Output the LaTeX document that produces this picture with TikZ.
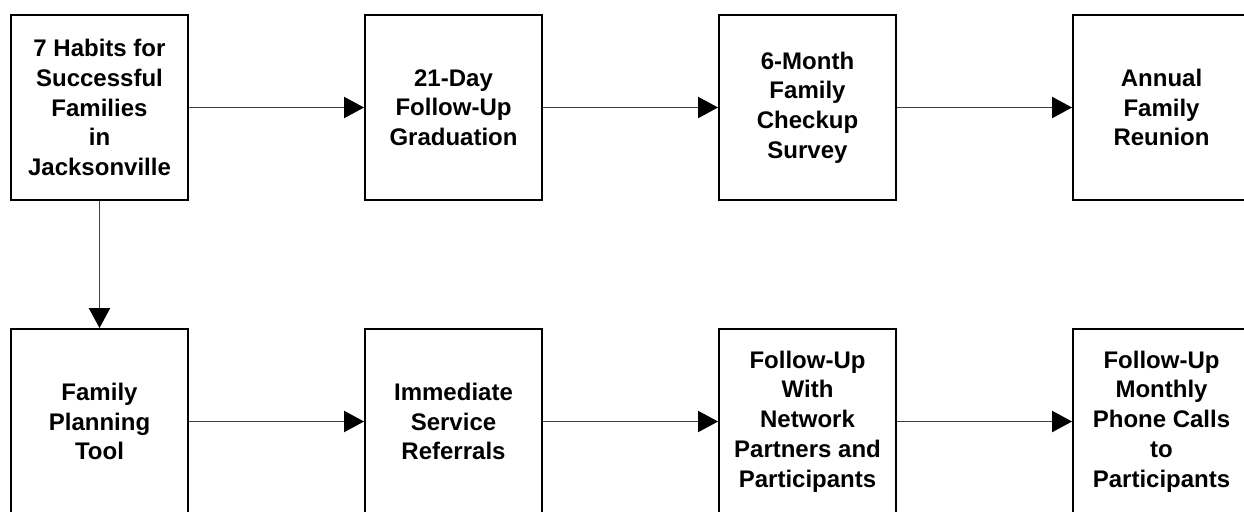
\documentclass[tikz,border=0pt]{standalone}
\usepackage{fontspec}
\setmainfont{Liberation Sans}
\usetikzlibrary{arrows.meta}
\begin{document}
\begin{tikzpicture}[x=0.75pt,y=-0.75pt,
  stage/.style={draw=black, line width=1.5pt, minimum width=132.75pt, minimum height=138.75pt,
    inner sep=0pt, align=center, font=\fontsize{18pt}{22.3pt}\selectfont\bfseries},
  flow/.style={line width=0.75pt, draw=black!75,
    -{Triangle[length=15pt,width=16pt,color=black]}}]
  \useasboundingbox (0,0) rectangle (1244,511);
  % upper row
  \node[stage] (habits)   at (99.5,107.5)  {7 Habits for\\Successful\\Families\\in\\Jacksonville};
  \node[stage] (grad)     at (453.5,107.5) {21-Day\\Follow-Up\\Graduation};
  \node[stage] (survey)   at (807.5,107.5) {6-Month\\Family\\Checkup\\Survey};
  \node[stage] (reunion)  at (1161.5,107.5){Annual\\Family\\Reunion};
  % lower row
  \node[stage] (plan)     at (99.5,421.5)  {Family\\Planning\\Tool};
  \node[stage] (referral) at (453.5,421.5) {Immediate\\Service\\Referrals};
  \node[stage] (network)  at (807.5,421.5) {Follow-Up\\With\\Network\\Partners and\\Participants};
  \node[stage] (calls)    at (1161.5,421.5){Follow-Up\\Monthly\\Phone Calls\\to\\Participants};
  % connectors
  \draw[flow] (habits) -- (grad);
  \draw[flow] (grad) -- (survey);
  \draw[flow] (survey) -- (reunion);
  \draw[flow] (habits) -- (plan);
  \draw[flow] (plan) -- (referral);
  \draw[flow] (referral) -- (network);
  \draw[flow] (network) -- (calls);
\end{tikzpicture}
\end{document}
